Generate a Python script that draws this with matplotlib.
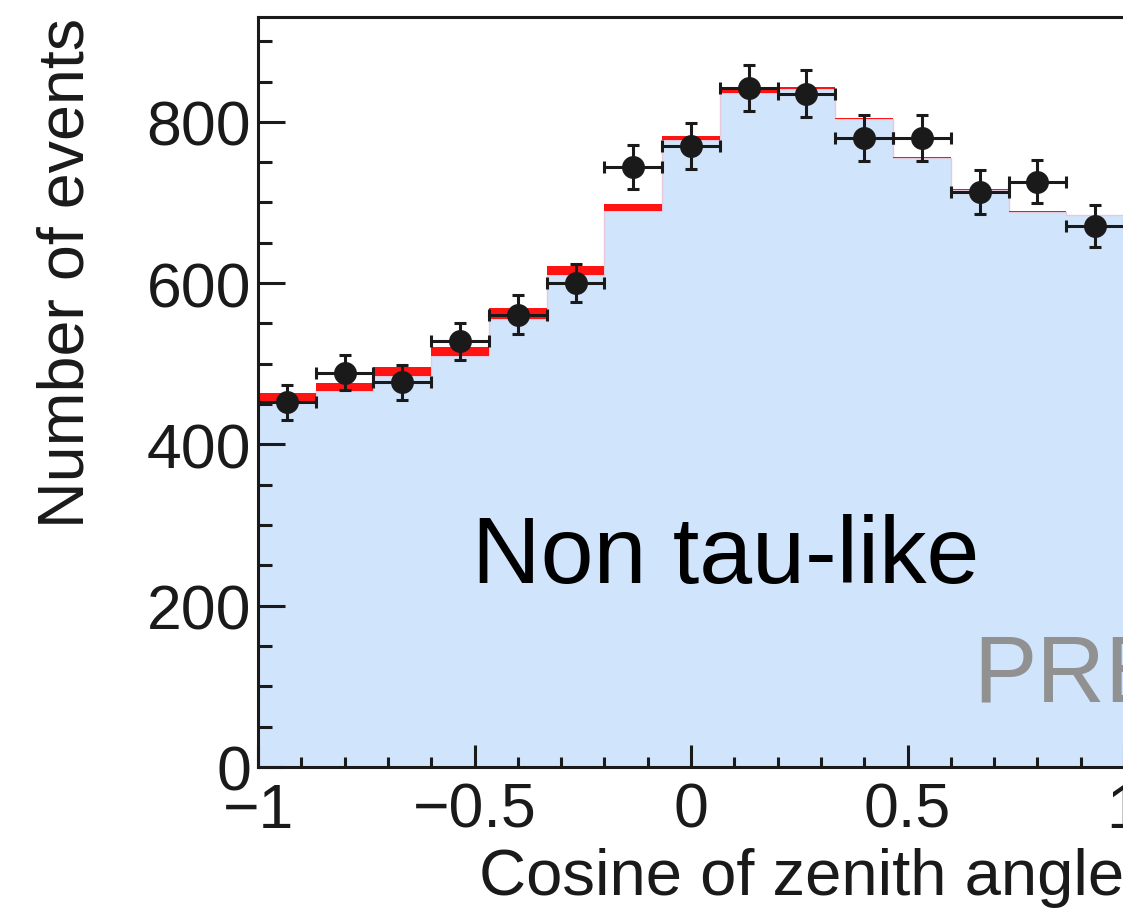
import matplotlib.pyplot as plt
import numpy as np
from matplotlib.ticker import MultipleLocator

plt.rcParams['font.family'] = ['Liberation Sans', 'DejaVu Sans']

# 15 bins in cos(zenith), -1 .. 1
edges = np.linspace(-1, 1, 16)
centers = 0.5 * (edges[1:] + edges[:-1])

mc_no_tau = np.array([454, 466, 485, 510, 556, 610, 689, 777, 836, 841, 803, 755, 716, 688, 684])
mc_tau = np.array([10, 10, 11, 11, 13, 11, 9, 6, 3, 2, 1.5, 1, 1, 1, 1])
data = np.array([452, 489, 477, 528, 561, 600, 744, 770, 842, 835, 780, 780, 713, 726, 671])
data_err = np.array([22, 22, 22, 23, 24, 24, 27, 28, 29, 29, 28, 28, 27, 27, 26])

fig = plt.figure(figsize=(11.23, 9.12), dpi=100)
ax = fig.add_axes([258 / 1123, 144 / 912, 866 / 1123, 750 / 912])

ax.stairs(mc_no_tau, edges, fill=True, color='#d0e4fc', zorder=1)
ax.stairs(mc_no_tau, edges, color='#e6c8dc', lw=1, zorder=1.5)
ax.stairs(mc_no_tau + mc_tau, edges, baseline=mc_no_tau, fill=True, color='#ff1414', zorder=2)

ax.errorbar(centers, data, yerr=data_err, xerr=np.diff(edges) / 2, fmt='o', color='#1a1a1a',
            ms=15.5, elinewidth=2.2, capsize=4, capthick=2.2, zorder=3)

ax.set_xlim(-1, 1)
ax.set_ylim(0, 930)
ax.xaxis.set_major_locator(MultipleLocator(0.5))
ax.xaxis.set_minor_locator(MultipleLocator(0.1))
ax.yaxis.set_major_locator(MultipleLocator(200))
ax.yaxis.set_minor_locator(MultipleLocator(50))
ax.set_xticks([-1, -0.5, 0, 0.5, 1], ['\u22121', '\u22120.5', '0', '0.5', '1'])

ax.tick_params(axis='both', which='both', direction='in', width=2.2, labelsize=45, colors='#1a1a1a')
ax.tick_params(axis='y', which='major', length=19.5, pad=5)
ax.tick_params(axis='y', which='minor', length=10)
ax.tick_params(axis='x', which='major', length=15.5, pad=10)
ax.tick_params(axis='x', which='minor', length=7.5)
for s in ax.spines.values():
    s.set_linewidth(2.2)
    s.set_color('#1a1a1a')

ax.set_ylabel('Number of events', fontsize=46.5, loc='top', color='#1a1a1a', labelpad=36)
ax.set_xlabel('Cosine of zenith angle', fontsize=47, loc='right', color='#1a1a1a', labelpad=5)

ax.text(-0.506, 229, 'Non tau-like', fontsize=68.5, color='black', ha='left', va='baseline', zorder=4)
ax.text(0.652, 82, 'PRELIMINARY', fontsize=68.5, color='#919191', ha='left', va='baseline', zorder=4)

plt.savefig('out.png', dpi=100)
